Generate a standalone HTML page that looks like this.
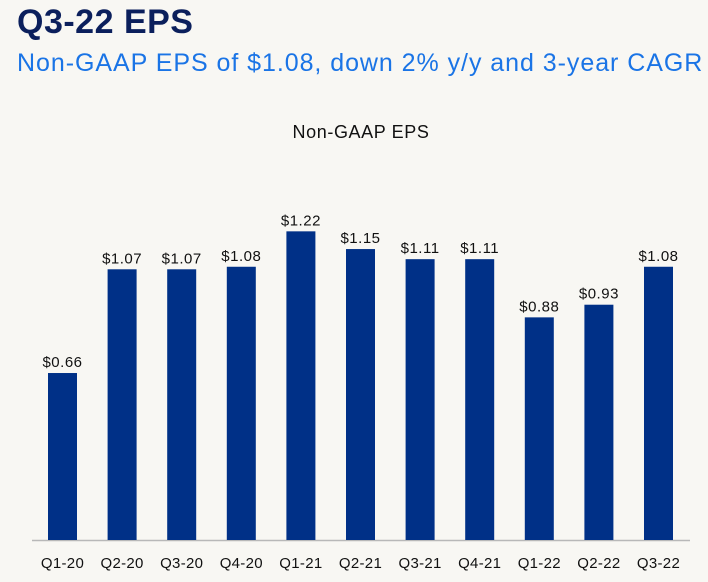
<!DOCTYPE html>
<html><head><meta charset="utf-8"><style>
body{margin:0;background:#f8f7f3;width:708px;height:582px;overflow:hidden;font-family:"Liberation Sans",sans-serif}
#t{position:absolute;left:17px;top:3px;font-size:34px;font-weight:bold;color:#0b1f5c;margin:0;letter-spacing:0.5px}
#s{position:absolute;left:17px;top:49px;font-size:25px;color:#1a74e6;margin:0;white-space:nowrap;letter-spacing:0.95px}
svg{position:absolute;left:0;top:0}
</style></head><body>
<h1 id="t">Q3-22 EPS</h1>
<p id="s">Non-GAAP EPS of $1.08, down 2% y/y and 3-year CAGR</p>
<svg id="c" width="708" height="582">
<text x="361" y="138" text-anchor="middle" font-size="18" letter-spacing="0.6" fill="#111">Non-GAAP EPS</text>
<line x1="32" y1="540.5" x2="690" y2="540.5" stroke="#b8b8b8" stroke-width="1.5"/>
</svg>
<script>
const categories=["Q1-20","Q2-20","Q3-20","Q4-20","Q1-21","Q2-21","Q3-21","Q4-21","Q1-22","Q2-22","Q3-22"];
const values=[0.66,1.07,1.07,1.08,1.22,1.15,1.11,1.11,0.88,0.93,1.08];
const valueLabels=["$0.66","$1.07","$1.07","$1.08","$1.22","$1.15","$1.11","$1.11","$0.88","$0.93","$1.08"];
const svg=document.getElementById('c'),NS="http://www.w3.org/2000/svg";
const base=540,scale=253,x0=62.5,step=59.6,bw=29;
const xs=i=>x0+i*step, ys=v=>base-v*scale;
categories.forEach((c,i)=>{
 const r=document.createElementNS(NS,'rect');
 r.setAttribute('x',xs(i)-bw/2);r.setAttribute('y',ys(values[i]));
 r.setAttribute('width',bw);r.setAttribute('height',base-ys(values[i]));
 r.setAttribute('fill','#003087');
 
 
 svg.appendChild(r);
 const t=document.createElementNS(NS,'text');
 t.setAttribute('x',xs(i));t.setAttribute('y',ys(values[i])-6);
 t.setAttribute('text-anchor','middle');t.setAttribute('font-size','15');t.setAttribute('letter-spacing','0.5');t.setAttribute('fill','#111');
 t.textContent=valueLabels[i];
 
 
 svg.appendChild(t);
 const l=document.createElementNS(NS,'text');
 l.setAttribute('x',xs(i));l.setAttribute('y',568);
 l.setAttribute('text-anchor','middle');l.setAttribute('font-size','15');l.setAttribute('letter-spacing','0.3');l.setAttribute('fill','#111');
 l.textContent=c;
 
 
 svg.appendChild(l);
});
</script>
</body></html>
